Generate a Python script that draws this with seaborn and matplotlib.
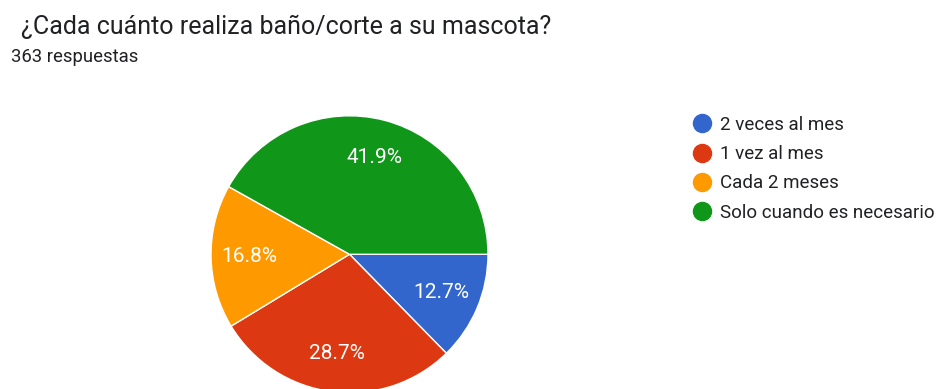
import numpy as np
import pandas as pd
import matplotlib
matplotlib.use("Agg")
import matplotlib.pyplot as plt
from matplotlib.lines import Line2D
import seaborn as sns

# survey data (363 answers)
categorias = ["2 veces al mes", "1 vez al mes", "Cada 2 meses", "Solo cuando es necesario"]
respuestas = [46, 104, 61, 152]
colores = ["#3366cc", "#dc3912", "#ff9900", "#109618"]
titulo = "¿Cada cuánto realiza baño/corte a su mascota?"
subtitulo = "363 respuestas"

sns.set_theme(style="white")
plt.rcParams["font.family"] = ["Roboto", "DejaVu Sans"]

W, H = 936, 389
fig = plt.figure(figsize=(W / 100, H / 100), dpi=100)
fig.patch.set_facecolor("white")

# pie axes placed in pixels: center (349.5, 254), radius 138.5
cx, cy, r = 349.5, 254.3, 138.5
ax = fig.add_axes([(cx - r) / W, (H - cy - r) / H, 2 * r / W, 2 * r / H])
wedges, texts, autotexts = ax.pie(
    respuestas,
    colors=colores,
    startangle=0,
    counterclock=False,
    autopct="%1.1f%%",
    pctdistance=0.72,
    radius=1.0,
    wedgeprops=dict(edgecolor="white", linewidth=1),
    textprops=dict(color="white", fontsize=15),
)
ax.set_xlim(-1, 1)
ax.set_ylim(-1, 1)
ax.set_aspect("equal")
ax.axis("off")

fig.text(21 / W, 1 - 27 / H, titulo, fontsize=18, color="#202124", va="center", ha="left")
fig.text(11 / W, 1 - 57 / H, subtitulo, fontsize=13.3, color="#202124", va="center", ha="left")

handles = [Line2D([0], [0], marker="o", linestyle="", markersize=13,
                  markerfacecolor=c, markeredgecolor=c) for c in colores]
leg = fig.legend(handles, categorias, loc="upper left",
                 bbox_to_anchor=(693 / W, 1 - 116 / H), frameon=False,
                 fontsize=13.5, handlelength=1.0, handletextpad=0.45,
                 labelspacing=0.6, borderaxespad=0, borderpad=0)
for t in leg.get_texts():
    t.set_color("#202124")

fig.savefig("out.png", dpi=100, facecolor="white")
